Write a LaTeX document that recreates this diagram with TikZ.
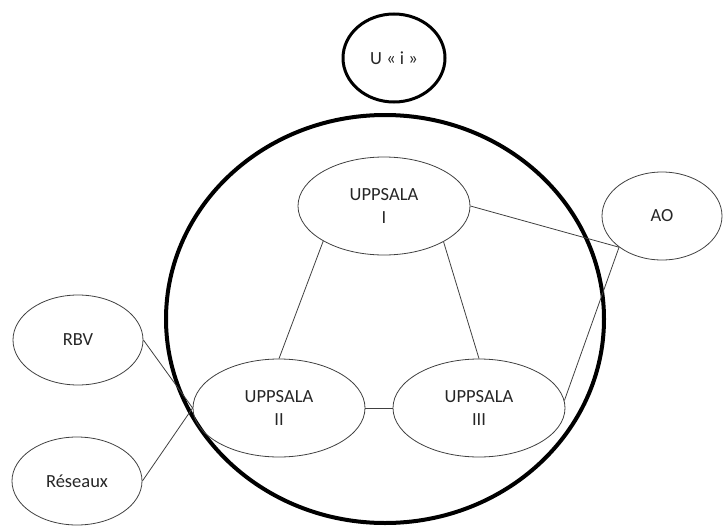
\documentclass[tikz,border=0pt]{standalone}
\usepackage{fontspec}
\setmainfont{Carlito}
\usetikzlibrary{shapes.geometric}
\begin{document}
\begin{tikzpicture}[x=1pt,y=-1pt,
  bubble/.style={ellipse, draw=black!75, line width=0.8pt, inner sep=0pt,
    minimum width=172pt, minimum height=98pt, align=center,
    font=\fontsize{18.5}{23}\selectfont, text=black!85},
  small/.style={bubble, minimum width=130pt, minimum height=90pt},
  link/.style={draw=black!75, line width=0.8pt}]
\useasboundingbox (0,0) rectangle (723,525);

% the enclosing group
\node[ellipse, draw, line width=4pt, inner sep=0pt,
      minimum width=438pt, minimum height=408pt] (ring) at (385,319) {};

% members and outside partners
\node[small, draw=black, line width=3pt, minimum width=102pt, minimum height=88pt] (ui) at (394,58) {U « i »};
\node[bubble] (u1) at (384,206) {UPPSALA\\I};
\node[bubble] (u2) at (279,408) {UPPSALA\\II};
\node[bubble] (u3) at (479,408) {UPPSALA\\III};
\node[small, minimum width=120pt, minimum height=88pt] (ao) at (662,216) {AO};
\node[small] (rbv) at (78,340) {RBV};
\node[small, minimum height=88pt] (res) at (77,481) {Réseaux};

% links
\draw[link] (u1.210) -- (u2.north);
\draw[link] (u1.329) -- (u3.north);
\draw[link] (u2.east) -- (u3.west);
\draw[link] (u1.east) -- (ao.216);
\draw[link] (ao.216) -- (u3.5);
\draw[link] (rbv.east) -- (u2.west);
\draw[link] (res.east) -- (u2.west);
\end{tikzpicture}
\end{document}
